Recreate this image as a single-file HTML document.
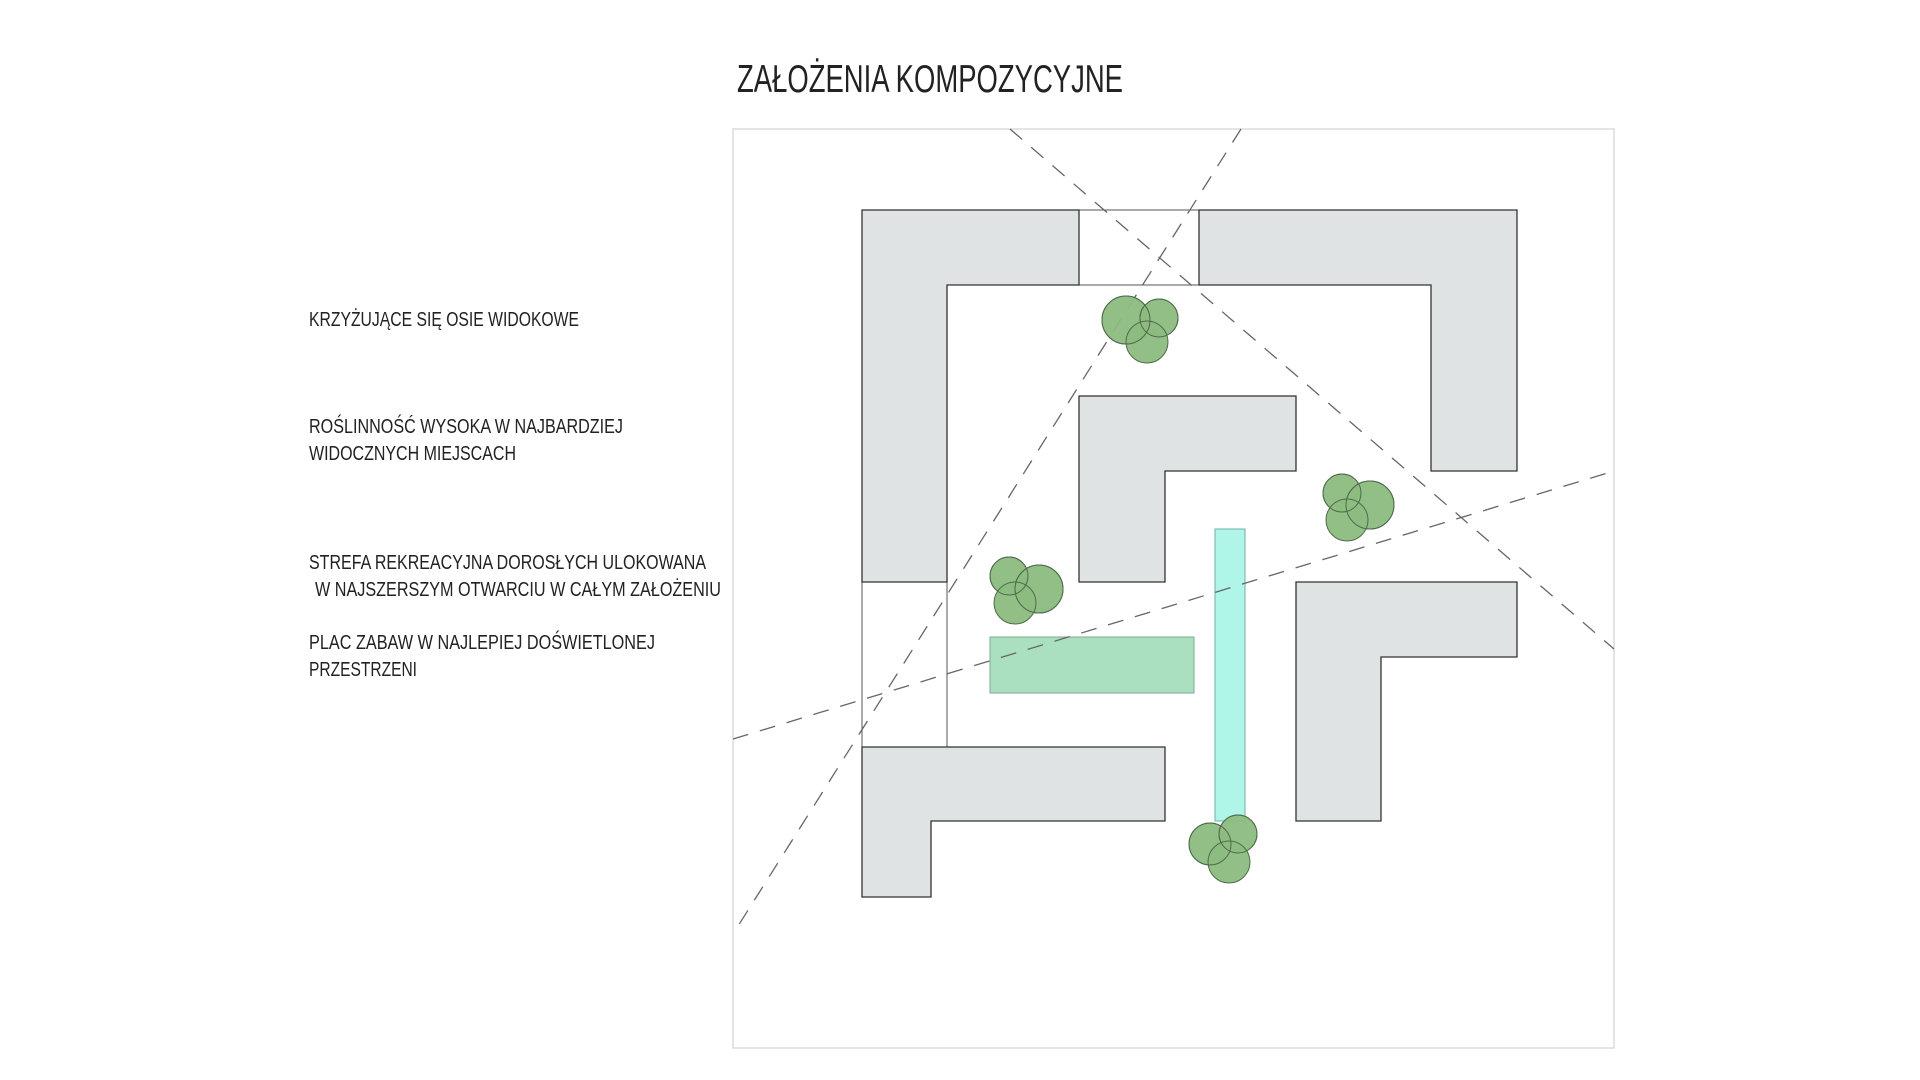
<!DOCTYPE html>
<html><head><meta charset="utf-8"><style>
html,body{margin:0;padding:0;background:#fff;}
svg{display:block;}
text{font-family:"Liberation Sans",sans-serif;fill:#222;}
</style></head><body>
<svg width="1920" height="1080" viewBox="0 0 1920 1080" xmlns="http://www.w3.org/2000/svg">
<rect x="0" y="0" width="1920" height="1080" fill="#fff"/>
<text x="737" y="92" font-size="39" textLength="386" lengthAdjust="spacingAndGlyphs">ZAŁOŻENIA KOMPOZYCYJNE</text>
<g font-size="20">
<text x="309" y="326" textLength="270" lengthAdjust="spacingAndGlyphs">KRZYŻUJĄCE SIĘ OSIE WIDOKOWE</text>
<text x="309" y="433" textLength="314" lengthAdjust="spacingAndGlyphs">ROŚLINNOŚĆ WYSOKA W NAJBARDZIEJ</text>
<text x="309" y="460" textLength="207" lengthAdjust="spacingAndGlyphs">WIDOCZNYCH MIEJSCACH</text>
<text x="309" y="569" textLength="397" lengthAdjust="spacingAndGlyphs">STREFA REKREACYJNA DOROSŁYCH ULOKOWANA</text>
<text x="315" y="596" textLength="406" lengthAdjust="spacingAndGlyphs">W NAJSZERSZYM OTWARCIU W CAŁYM ZAŁOŻENIU</text>
<text x="309" y="649" textLength="346" lengthAdjust="spacingAndGlyphs">PLAC ZABAW W NAJLEPIEJ DOŚWIETLONEJ</text>
<text x="309" y="676" textLength="108" lengthAdjust="spacingAndGlyphs">PRZESTRZENI</text>
</g>
<rect x="733" y="129" width="881" height="919" fill="#fff" stroke="#dcdcdc" stroke-width="1.5"/>
<g fill="none" stroke="#555" stroke-width="1">
<line x1="1079" y1="210" x2="1199" y2="210"/>
<line x1="947" y1="285" x2="1431" y2="285"/>
<line x1="947" y1="285" x2="947" y2="747"/>
<line x1="862" y1="582" x2="862" y2="747"/>
</g>
<g fill="#dfe3e3" stroke="#333" stroke-width="1.3">
<polygon points="862,210 1079,210 1079,285 947,285 947,582 862,582"/>
<polygon points="1199,210 1517,210 1517,471 1431,471 1431,285 1199,285"/>
<polygon points="1079,396 1296,396 1296,471 1165,471 1165,582 1079,582"/>
<polygon points="1296,582 1517,582 1517,657 1381,657 1381,821 1296,821"/>
<polygon points="862,747 1165,747 1165,821 931,821 931,897 862,897"/>
</g>
<rect x="990" y="637" width="204" height="56" fill="#aadfc0" stroke="#7cae90" stroke-width="1"/>
<rect x="1215" y="529" width="30" height="292" fill="#aff5e8" stroke="#6fb0a6" stroke-width="1"/>
<g fill="none" stroke="#666" stroke-width="1.3" stroke-dasharray="16,12">
<line x1="1010" y1="129" x2="1614" y2="649"/>
<line x1="1241" y1="129" x2="733" y2="934"/>
<line x1="733" y1="739" x2="1614" y2="471"/>
</g>
<g fill="#8cbc80" fill-opacity="0.95" stroke="#4f6b4b" stroke-width="1">
<circle cx="1126" cy="320" r="24"/><circle cx="1159" cy="318" r="19"/><circle cx="1147" cy="342" r="21"/>
<circle cx="1342" cy="493" r="19"/><circle cx="1370" cy="505" r="24"/><circle cx="1347" cy="520" r="21"/>
<circle cx="1009" cy="576" r="19"/><circle cx="1039" cy="589" r="24"/><circle cx="1015" cy="603" r="21"/>
<circle cx="1210" cy="844" r="21"/><circle cx="1238" cy="834" r="19"/><circle cx="1229" cy="862" r="21"/>
</g>
<g fill="none" stroke="#4f6b4b" stroke-width="1">
<circle cx="1126" cy="320" r="24"/><circle cx="1159" cy="318" r="19"/>
<circle cx="1342" cy="493" r="19"/><circle cx="1370" cy="505" r="24"/>
<circle cx="1009" cy="576" r="19"/><circle cx="1039" cy="589" r="24"/>
<circle cx="1210" cy="844" r="21"/><circle cx="1238" cy="834" r="19"/>
</g>
</svg>
</body></html>
